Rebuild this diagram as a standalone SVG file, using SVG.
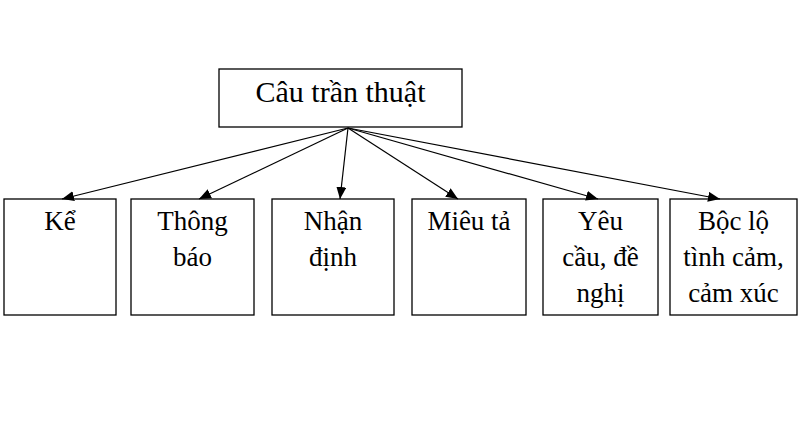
<svg xmlns="http://www.w3.org/2000/svg" width="800" height="434" viewBox="0 0 800 434">
<defs>
<marker id="ah" markerWidth="12" markerHeight="10" refX="12" refY="5" orient="auto" markerUnits="userSpaceOnUse">
<path d="M0,0 L12,5 L0,10 Z" fill="#000"/>
</marker>
<style>
.box{fill:#fff;stroke:#000;stroke-width:1.3}
.t{font-family:"Liberation Serif","Times New Roman",serif;font-size:27px;fill:#000;text-anchor:middle}
.tt{font-size:30px}
.c{stroke:#000;stroke-width:1.2;fill:none;marker-end:url(#ah)}
</style>
</defs>
<rect width="800" height="434" fill="#fff"/>
<g id="root">
<rect class="box" x="219" y="69" width="243" height="58"/>
<text class="t tt" x="340.5" y="102">Câu trần thuật</text>
</g>
<g id="n1"><rect class="box" x="4" y="199" width="112" height="116"/><text class="t" x="60" y="230">Kể</text></g>
<g id="n2"><rect class="box" x="131" y="199" width="123" height="116"/><text class="t" x="192.5" y="230">Thông</text><text class="t" x="192.5" y="266">báo</text></g>
<g id="n3"><rect class="box" x="272" y="199" width="122" height="116"/><text class="t" x="333" y="230">Nhận</text><text class="t" x="333" y="266">định</text></g>
<g id="n4"><rect class="box" x="412" y="199" width="114" height="116"/><text class="t" x="469" y="230">Miêu tả</text></g>
<g id="n5"><rect class="box" x="543" y="199" width="115" height="116"/><text class="t" x="600.5" y="230">Yêu</text><text class="t" x="600.5" y="266">cầu, đề</text><text class="t" x="600.5" y="302">nghị</text></g>
<g id="n6"><rect class="box" x="670" y="199" width="127" height="116"/><text class="t" x="733.5" y="230">Bộc lộ</text><text class="t" x="733.5" y="266">tình cảm,</text><text class="t" x="733.5" y="302">cảm xúc</text></g>
<g id="connectors">
<line class="c" x1="348" y1="128" x2="62" y2="199"/>
<line class="c" x1="348" y1="128" x2="199" y2="199"/>
<line class="c" x1="348" y1="128" x2="340" y2="199"/>
<line class="c" x1="348" y1="128" x2="458" y2="199"/>
<line class="c" x1="348" y1="128" x2="598" y2="199"/>
<line class="c" x1="348" y1="128" x2="720" y2="199"/>
</g>
</svg>
